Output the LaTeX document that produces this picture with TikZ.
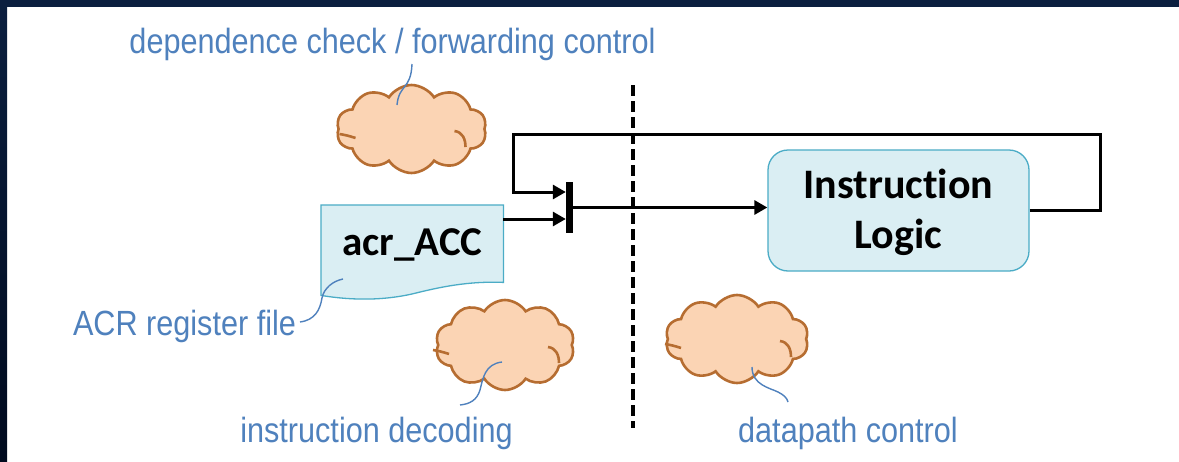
\documentclass[tikz,border=0pt]{standalone}
\usepackage{fontspec}
\setmainfont{Liberation Sans}
\newfontfamily\lblfont[FakeStretch=0.875]{Liberation Sans}
\newfontfamily\boxfont[Ligatures=NoCommon]{Carlito}
\usetikzlibrary{arrows.meta,shapes.symbols}

\definecolor{framenavy}{HTML}{0B1F3F}
\definecolor{framedark}{HTML}{000A1E}
\definecolor{lblblue}{HTML}{4F81BD}
\definecolor{cloudfill}{HTML}{FBD4B4}
\definecolor{cloudedge}{HTML}{B66D31}
\definecolor{boxfill}{HTML}{DAEEF3}
\definecolor{boxedge}{HTML}{4BACC6}

\tikzset{
  lbl/.style={font=\lblfont\fontsize{35}{40}\selectfont, text=lblblue, inner sep=0pt, anchor=base},
  puff/.style={cloud, cloud puffs=10, cloud puff arc=115, aspect=1.7, draw=cloudedge,
               fill=cloudfill, line width=2.6pt, inner sep=0pt},
  crease/.style={draw=cloudedge, line width=2.6pt},
  callout/.style={draw=lblblue, line width=1.4pt},
  wire/.style={draw=black, line width=3pt},
  arr/.style={wire, -{Triangle[length=13pt,width=14pt]}},
  logicbox/.style={draw=boxedge, fill=boxfill, line width=1.3pt, rounded corners=20pt,
                   inner sep=0pt},
  boxtext/.style={font=\boxfont\bfseries\fontsize{42}{50}\selectfont, align=center, inner sep=0pt}
}

% inner fold lines of a cloud, placed relative to its centre
\newcommand\cloudfolds[1]{%
  \draw[crease] ([shift={(-72,5)}]#1.center)
      .. controls +(6,1) and +(-6,-2) .. ([shift={(-56,9)}]#1.center);
  \draw[crease] ([shift={(43,2)}]#1.center)
      .. controls +(8,1) and +(0,-8) .. ([shift={(54,18)}]#1.center);
}

\begin{document}
\begin{tikzpicture}[x=1pt, y=-1pt]
  % page and frame
  \useasboundingbox (0,0) rectangle (1179,461);
  \fill[white] (0,0) rectangle (1179,461);
  \fill[framenavy] (0,0) rectangle (1179,7);
  \shade[top color=framenavy, bottom color=framedark] (0,0) rectangle (7,461);

  % stage boundary
  \draw[line width=3.5pt, dash pattern=on 11pt off 5pt] (633,85) -- (633,428);

  % clouds
  \node[puff, minimum width=150pt, minimum height=88pt] (depcloud) at (411.5,129) {};
  \node[puff, minimum width=139pt, minimum height=90pt] (deccloud) at (505,345) {};
  \node[puff, minimum width=143pt, minimum height=88pt] (dpcloud) at (737,339) {};
  \cloudfolds{depcloud}
  \cloudfolds{deccloud}
  \cloudfolds{dpcloud}

  % register file (document shape)
  \node[minimum width=182pt, minimum height=90pt, inner sep=0pt, anchor=north west] (acr) at (321,205) {};
  \draw[draw=boxedge, fill=boxfill, line width=1.3pt]
    (acr.south west) -- (acr.north west) -- (acr.north east) -- ([yshift=13pt]acr.south east)
    .. controls (468,281) and (440,287) .. (412,294)
    .. controls (385,300) and (355,301) .. (acr.south west) -- cycle;
  \node[boxtext, font=\boxfont\bfseries\fontsize{41}{48}\selectfont] (acrtext) at (412.5,245) {acr\_ACC};

  % pipeline register
  \node[fill=black, minimum width=7pt, minimum height=51pt, inner sep=0pt] (reg) at (569.5,207.5) {};

  % instruction logic
  \node[logicbox, minimum width=261pt, minimum height=121pt] (il) at (898.5,210.5) {};
  \node[boxtext] (iltext) at (898.5,212) {Instruction\\Logic};

  % connections
  \coordinate (fbR) at (1100,134);
  \coordinate (fbL) at (513,134);
  \draw[arr] ([yshift=-14pt]acr.north east) -- ([yshift=-11.5pt]reg.west);
  \draw[arr] (reg.east) -- (reg.east -| il.west);
  \draw[arr] (il.east) -| (fbR) -- (fbL) |- ([yshift=15.5pt]reg.west);

  % labels
  \node[lbl] (deplbl) at (392.5,53) {dependence check / forwarding control};
  \node[lbl] (acrlbl) at (184.5,335) {ACR register file};
  \node[lbl] (declbl) at (376.5,442) {instruction decoding};
  \node[lbl] (dplbl) at (848,442) {datapath control};

  % callout leaders
  \coordinate (depA) at (397,105);
  \coordinate (depB) at (412,64);
  \draw[callout] (depA) .. controls (399,84) and (411,90) .. (depB);
  \coordinate (acrA) at (343,279);
  \coordinate (acrB) at (300,322);
  \draw[callout] (acrB) .. controls (315,320) and (320,310) .. (322,298)
                        .. controls (324,288) and (333,281) .. (acrA);
  \coordinate (decA) at (502,362);
  \coordinate (decB) at (460,405);
  \draw[callout] (decA) .. controls (485,364) and (483,378) .. (480,390)
                        .. controls (477,400) and (470,404) .. (decB);
  \coordinate (dpA) at (752,367);
  \coordinate (dpB) at (788,402);
  \draw[callout] (dpA) .. controls (752,385) and (770,388) .. (778,392)
                       .. controls (784,395) and (787,398) .. (dpB);
\end{tikzpicture}
\end{document}
